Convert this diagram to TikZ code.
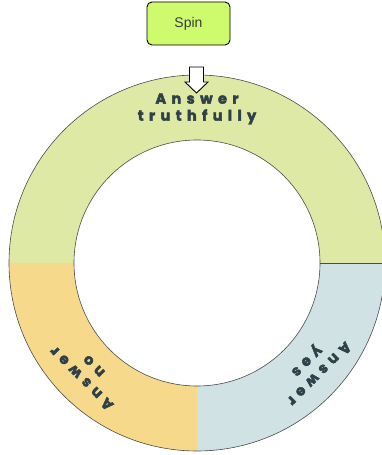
\documentclass[tikz,border=0pt]{standalone}
\usepackage{fontspec}
\usetikzlibrary{calc}
\setmainfont{Liberation Sans}
\newfontfamily\ringfont[LetterSpace=37, BoldFeatures={FakeBold=3}]{Poppins}
\definecolor{ringgreen}{RGB}{223,233,166}
\definecolor{ringorange}{RGB}{246,217,139}
\definecolor{ringblue}{RGB}{209,226,228}
\definecolor{spinfill}{RGB}{206,250,110}
\definecolor{ringtext}{RGB}{46,64,72}
\definecolor{spintext}{RGB}{60,60,60}
\tikzset{
  ringlabel/.style={align=center, text=ringtext, font=\ringfont\bfseries\fontsize{14.5}{17}\selectfont, inner sep=0pt},
  spinbox/.style={draw=black, line width=0.9pt, fill=spinfill, rounded corners=5pt, minimum width=83pt, minimum height=43pt, font=\fontsize{14}{16}\selectfont, text=spintext},
  ringline/.style={draw=black!70, line width=0.6pt}
}
\begin{document}
\begin{tikzpicture}[x=1pt,y=1pt]
\useasboundingbox (0,0) rectangle (382,455);
\clip (0,0) rectangle (382,455);
\coordinate (C) at (197,192);
% segments
\fill[ringgreen] (9,192) arc[start angle=180,end angle=0,radius=188] -- (320,192) arc[start angle=0,end angle=180,radius=123] -- cycle;
\fill[ringorange] (9,192) arc[start angle=180,end angle=270,radius=188] -- (197,69) arc[start angle=270,end angle=180,radius=123] -- cycle;
\fill[ringblue] (197,4) arc[start angle=270,end angle=360,radius=188] -- (320,192) arc[start angle=0,end angle=-90,radius=123] -- cycle;
\draw[ringline] (C) circle[radius=188];
\draw[ringline] (C) circle[radius=123];
\draw[ringline] (320,192) -- (385,192);
% labels
\node[ringlabel] (truth) at ($(C)+(90:154)$) {Answer\\truthfully};
\node[ringlabel, rotate=135] (no) at ($(C)+(225:155)$) {Answer\\no};
\node[ringlabel, rotate=225] (yes) at ($(C)+(318:155)$) {Answer\\yes};
% spin box
\node[spinbox] (spin) at (188.5,431.5) {Spin};
% block arrow
\draw[fill=white, line width=0.9pt, line join=miter] (189.5,388) -- (203.5,388) -- (203.5,373) -- (208,373) -- (196.5,362) -- (185,373) -- (189.5,373) -- cycle;
\end{tikzpicture}
\end{document}
